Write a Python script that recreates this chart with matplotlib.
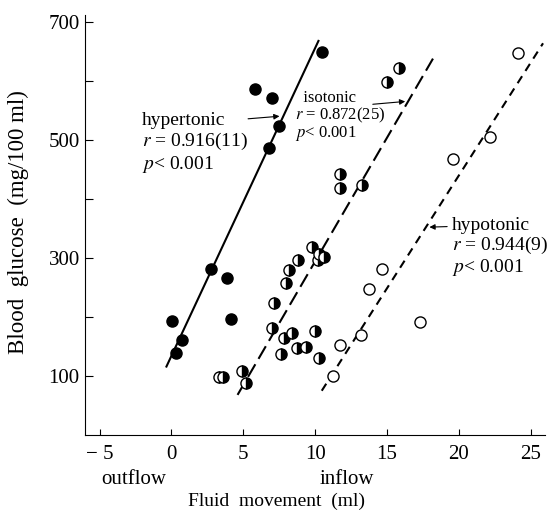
import matplotlib
matplotlib.use('Agg')
import matplotlib.pyplot as plt

# hypertonic (filled), isotonic (half filled), hypotonic (open)
hyper_x = [0.02, 0.30, 0.72, 2.76, 3.84, 4.14, 5.83, 6.80, 7.03, 7.50, 10.46]
hyper_y = [194, 139, 161, 282, 266, 197, 586, 486, 571, 524, 649]

iso_x = [3.29, 3.59, 4.93, 5.20, 6.97, 7.13, 7.60, 7.80, 7.94, 8.19, 8.40, 8.75, 8.80,
         9.33, 9.79, 9.98, 10.23, 10.28, 10.28, 10.65, 11.74, 11.74, 13.24, 14.98, 15.86]
iso_y = [99, 99, 108, 88, 182, 224, 138, 164, 258, 280, 173, 147, 296,
         149, 319, 176, 297, 307, 130, 302, 442, 418, 424, 598, 622]

hypo_x = [11.23, 11.74, 13.20, 13.77, 14.68, 17.30, 19.60, 22.15, 24.13]
hypo_y = [100, 152, 170, 247, 282, 191, 468, 505, 647]

# regression lines (end points)
hyper_line_x = [-0.35, 10.23]
hyper_line_y = [116, 668]
iso_line_x = [4.6, 18.2]
iso_line_y = [68, 638]
hypo_line_x = [10.46, 25.86]
hypo_line_y = [75, 664]

x_ticks = [-5, 0, 5, 10, 15, 20, 25]
x_tick_labels = ['\u2212 5', '0', '5', '10', '15', '20', '25']
y_ticks = [100, 300, 500, 700]
y_minor = [200, 400, 600]

plt.rcParams['font.family'] = ['Liberation Serif', 'DejaVu Serif']
plt.rcParams['mathtext.fontset'] = 'stix'

fig = plt.figure(figsize=(5.5, 5.16), dpi=100)
ax = fig.add_axes([0.155, 0.157, 0.836, 0.814])

ax.plot(hyper_line_x, hyper_line_y, color='black', lw=1.5, ls='-')
ax.plot(iso_line_x, iso_line_y, color='black', lw=1.5, ls=(0, (7, 3)))
ax.plot(hypo_line_x, hypo_line_y, color='black', lw=1.5, ls=(0, (4, 3)))

ms = 8
ax.plot(hyper_x, hyper_y, 'o', color='black', ms=ms, mec='black', zorder=3)
ax.plot(iso_x, iso_y, 'o', ms=ms, mec='black', mfc='black', fillstyle='right',
        markerfacecoloralt='white', mew=1.0, zorder=3)
ax.plot(hypo_x, hypo_y, 'o', ms=ms, mec='black', mfc='white', mew=1.0, zorder=3)

ax.set_xlim(-6, 26)
ax.set_ylim(0, 712)
ax.spines['top'].set_visible(False)
ax.spines['right'].set_visible(False)
for s in ['left', 'bottom']:
    ax.spines[s].set_linewidth(0.8)

ax.set_xticks(x_ticks)
ax.set_xticklabels(x_tick_labels)
ax.set_yticks(y_ticks)
ax.set_yticks(y_minor, minor=True)
ax.tick_params(axis='x', direction='in', length=4, width=0.8, pad=7, labelsize=15)
ax.tick_params(axis='y', direction='in', length=6, width=0.8, pad=4, labelsize=15)
ax.tick_params(axis='y', which='minor', direction='in', length=6, width=0.8)

# annotations
ax.text(-2.08, 494, 'hypertonic\n$r$ = 0.916(11)\n$p$< 0.001', fontsize=14,
        va='center', ha='left', linespacing=1.15)
ax.annotate('', xy=(7.71, 540.7), xytext=(5.14, 535.6),
            arrowprops=dict(arrowstyle='-|>', color='black', lw=0.8, mutation_scale=8))

ax.text(8.61, 540, '  isotonic\n$r$ = 0.872(25)\n$p$< 0.001', fontsize=12,
        va='center', ha='left', linespacing=0.95)
ax.annotate('', xy=(16.46, 565.8), xytext=(13.82, 560.2),
            arrowprops=dict(arrowstyle='-|>', color='black', lw=0.8, mutation_scale=8))

ax.text(19.51, 318, 'hypotonic\n$r$ = 0.944(9)\n$p$< 0.001', fontsize=14,
        va='center', ha='left', linespacing=1.05)
ax.annotate('', xy=(17.76, 352.2), xytext=(19.38, 353.4),
            arrowprops=dict(arrowstyle='-|>', color='black', lw=0.8, mutation_scale=8))

ax.text(-2.6, -0.105, 'outflow', fontsize=15, ha='center', va='center',
        transform=ax.get_xaxis_transform())
ax.text(12.2, -0.105, 'inflow', fontsize=15, ha='center', va='center',
        transform=ax.get_xaxis_transform())
ax.text(0.415, -0.158, 'Fluid  movement  (ml)', fontsize=14, ha='center', va='center',
        transform=ax.transAxes)
ax.text(-0.145, 0.507, 'Blood  glucose  (mg/100 ml)', fontsize=16.5, ha='center', va='center',
        rotation=90, transform=ax.transAxes)

fig.savefig('out.png', dpi=100)
